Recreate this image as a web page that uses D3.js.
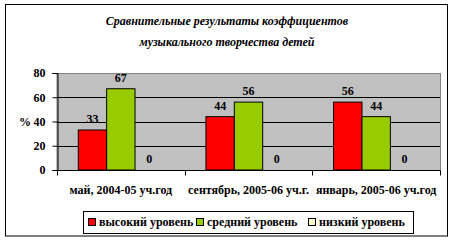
<!doctype html>
<html>
<head>
<meta charset="UTF-8">
<script src="https://d3js.org/d3.v7.min.js"></script>
<style>
  body { margin: 0; background: #fff; }
</style>
</head>
<body>
<svg id="chart" width="456" height="243"></svg>
<script>
// chart data
var categories = ["май, 2004-05 уч.год", "сентябрь, 2005-06 уч.г.", "январь, 2005-06 уч.год"];
var seriesNames = ["высокий уровень", "средний уровень", "низкий уровень"];
var seriesColors = ["#ff0000", "#99cc00", "#ffffcc"];
var high = [33, 44, 56];
var mid = [67, 56, 44];
var low = [0, 0, 0];
var yTicks = [0, 20, 40, 60, 80];
var titleLines = ["Сравнительные результаты коэффициентов", "музыкального творчества детей"];

var series = [high, mid, low];
var FONT = '"Liberation Serif", "Times New Roman", serif';

var svg = d3.select("#chart");

// outer frame
svg.append("rect")
    .attr("x", 5.5).attr("y", 4.5)
    .attr("width", 442).attr("height", 231.5)
    .attr("fill", "#fff").attr("stroke", "#000");

// title
svg.append("g").selectAll("text")
    .data(titleLines)
    .enter().append("text")
    .attr("x", 227)
    .attr("y", function (d, i) { return 25 + i * 21; })
    .attr("text-anchor", "middle")
    .style("font-family", FONT)
    .style("font-style", "italic")
    .style("font-weight", "bold")
    .style("font-size", "12px")
    .text(function (d) { return d; });

var pLeft = 57, pRight = 440, pTop = 73, pBottom = 170;

var x = d3.scaleBand().domain(categories).range([pLeft, pRight]);
var y = d3.scaleLinear().domain([0, 80]).range([pBottom, pTop]);

// plot background
svg.append("rect")
    .attr("x", pLeft).attr("y", pTop + 0.5)
    .attr("width", pRight - pLeft + 0.5).attr("height", pBottom - pTop)
    .attr("fill", "#c0c0c0").attr("stroke", "#808080");

// gridlines
svg.append("g").selectAll("line")
    .data(yTicks.filter(function (d) { return d > 0 && d < 80; }))
    .enter().append("line")
    .attr("x1", pLeft).attr("x2", pRight)
    .attr("y1", function (d) { return Math.round(y(d)) + 0.5; })
    .attr("y2", function (d) { return Math.round(y(d)) + 0.5; })
    .attr("stroke", "#000");

// bars
var bw = x.bandwidth() / 4.5;
var barG = svg.append("g");
series.forEach(function (vals, s) {
    barG.selectAll(".b" + s)
        .data(vals)
        .enter().append("rect")
        .attr("class", "b" + s)
        .attr("x", function (d, i) { return x(categories[i]) + bw * (0.75 + s); })
        .attr("y", function (d) { return y(d); })
        .attr("width", bw)
        .attr("height", function (d) { return pBottom - y(d); })
        .attr("fill", seriesColors[s])
        .attr("stroke", "#000")
        .attr("stroke-width", 1);

    barG.selectAll(".l" + s)
        .data(vals)
        .enter().append("text")
        .attr("class", "l" + s)
        .attr("x", function (d, i) { return x(categories[i]) + bw * (0.75 + s + 0.5); })
        .attr("y", function (d) { return y(d) - 7; })
        .attr("text-anchor", "middle")
        .style("font-family", FONT)
        .style("font-weight", "bold")
        .style("font-size", "12px")
        .text(function (d) { return d; });
});

// y axis
var yAxis = svg.append("g")
    .attr("transform", "translate(" + (pLeft + 0.5) + ",0)")
    .call(d3.axisLeft(y).tickValues(yTicks).tickSize(5).tickPadding(7));
yAxis.selectAll("path, line").attr("stroke", "#000");
yAxis.selectAll("text")
    .style("font-family", FONT)
    .style("font-weight", "bold")
    .style("font-size", "12px")
    .attr("fill", "#000");

svg.append("text")
    .attr("x", 31).attr("y", y(40) + 4)
    .attr("text-anchor", "end")
    .style("font-family", FONT)
    .style("font-weight", "bold")
    .style("font-size", "12px")
    .text("%");

// x axis
var xAxis = svg.append("g")
    .attr("transform", "translate(0," + (pBottom + 0.5) + ")");
xAxis.append("line")
    .attr("x1", pLeft).attr("x2", pRight)
    .attr("stroke", "#000");
xAxis.selectAll(".tk")
    .data(categories.concat([null]))
    .enter().append("line")
    .attr("class", "tk")
    .attr("x1", function (d, i) { return Math.round(pLeft + i * x.bandwidth()) + 0.5; })
    .attr("x2", function (d, i) { return Math.round(pLeft + i * x.bandwidth()) + 0.5; })
    .attr("y1", 0).attr("y2", 5)
    .attr("stroke", "#000");
xAxis.selectAll(".cl")
    .data(categories)
    .enter().append("text")
    .attr("class", "cl")
    .attr("x", function (d) { return x(d) + x.bandwidth() / 2; })
    .attr("y", 23)
    .attr("text-anchor", "middle")
    .style("font-family", FONT)
    .style("font-weight", "bold")
    .style("font-size", "12px")
    .text(function (d) { return d; });

// legend
var lg = svg.append("g");
lg.append("rect")
    .attr("x", 83.5).attr("y", 211.5)
    .attr("width", 330).attr("height", 22)
    .attr("fill", "#fff").attr("stroke", "#000");
var legX = [88, 196, 308];
seriesNames.forEach(function (name, i) {
    lg.append("rect")
        .attr("x", legX[i] + 0.5).attr("y", 218.5)
        .attr("width", 7).attr("height", 7)
        .attr("fill", seriesColors[i]).attr("stroke", "#000");
    lg.append("text")
        .attr("x", legX[i] + 11).attr("y", 226)
        .style("font-family", FONT)
        .style("font-weight", "bold")
        .style("font-size", "12px")
        .text(name);
});
</script>
</body>
</html>
